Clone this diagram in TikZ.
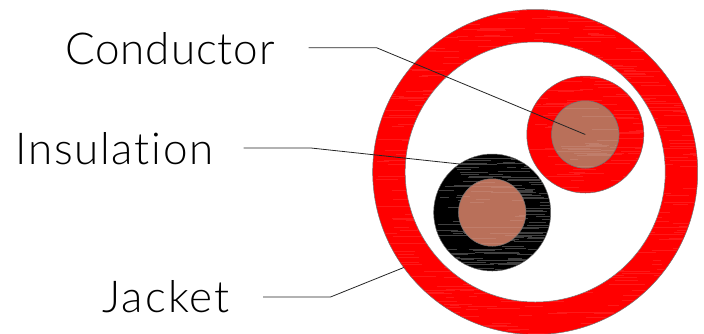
\documentclass[tikz,border=0pt]{standalone}
\usepackage{fontspec}
\setmainfont{Lato}[UprightFont=* Light, Ligatures=NoCommon]
\definecolor{copper}{HTML}{B9705A}
\tikzset{
    sheath/.style={circle, draw=black!55, line width=0.5pt, inner sep=0pt, outer sep=0pt, minimum size=#1},
    label text/.style={font=\fontsize{44}{44}\selectfont\addfontfeature{LetterSpace=#1}, anchor=base west, inner sep=0pt, text=black},
    leader/.style={draw=black!85, line width=0.8pt}
}
% Stries horizontales dans un disque
\newcommand{\streaks}[4]{
    \begin{scope}
        \clip (#1) circle (#2);
        \foreach \i in {1,...,#3} {
            \pgfmathsetmacro{\sx}{rnd*2*#2-#2}
            \pgfmathsetmacro{\sy}{rnd*2*#2-#2}
            \pgfmathsetmacro{\sl}{8+rnd*40}
            \draw[#4, line width=0.6pt] ([shift={(\sx,\sy)}]#1) -- ++(\sl,0);
        }
    \end{scope}
}
\begin{document}
\begin{tikzpicture}[x=1pt, y=-1pt]
\useasboundingbox (0,0) rectangle (704,333);
\pgfmathsetseed{11}
% Gaine
\node[sheath=325pt, fill=red] (jacket) at (535.2,172) {};
\streaks{jacket.center}{162pt}{600}{red!90!white}
\node[sheath=260pt, fill=white] (hollow) at (535.2,172) {};
% Fil rouge
\node[sheath=117pt, fill=red] (redwire) at (585.3,134.5) {};
\streaks{redwire.center}{58pt}{100}{red!90!white}
\node[sheath=67.5pt, fill=copper] (redcore) at (585.3,134.5) {};
\streaks{redcore.center}{33pt}{25}{copper!90!white}
% Fil noir
\node[sheath=117pt, fill=black] (blackwire) at (492.2,212.5) {};
\streaks{blackwire.center}{58pt}{160}{black!75!white}
\node[sheath=67.5pt, fill=copper] (blackcore) at (492.2,212.5) {};
\streaks{blackcore.center}{33pt}{25}{copper!90!white}
% Textes
\node[label text=2] (conductor) at (65,64) {Conductor};
\node[label text=4] (insulation) at (15,164) {Insulation};
\node[label text=5] (jackettext) at (102,312) {Jacket};
% Traits de rappel
\coordinate (conductor start) at (308.5,47.7);
\coordinate (conductor bend) at (376.5,47.7);
\coordinate (insulation start) at (243.5,148);
\coordinate (insulation bend) at (311,148);
\coordinate (jacket start) at (263,297);
\coordinate (jacket bend) at (330.5,297);
\draw[leader] (conductor start) -- (conductor bend) -- (redcore.center);
\draw[leader] (insulation start) -- (insulation bend) -- (blackwire.124.5);
\draw[leader] (jacket start) -- (jacket bend) -- (jacket.216);
\end{tikzpicture}
\end{document}
